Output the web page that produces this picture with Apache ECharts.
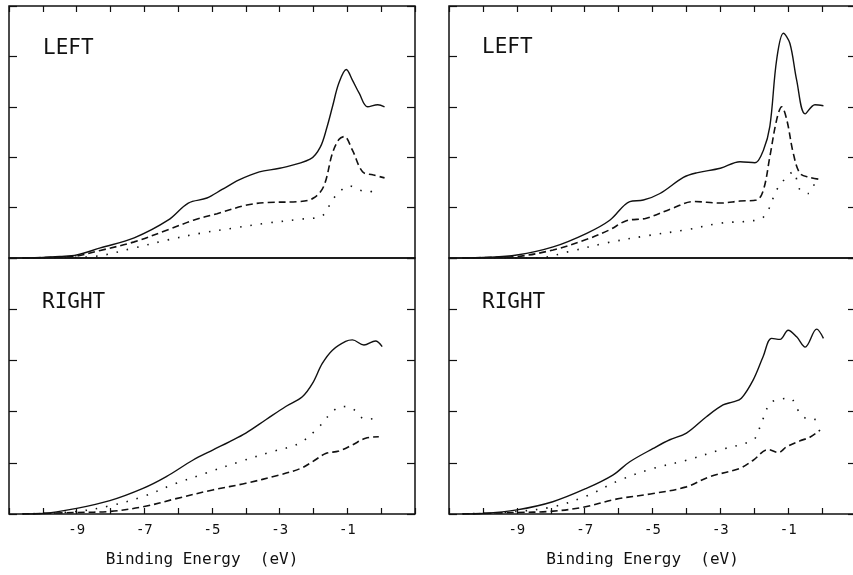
<!DOCTYPE html>
<html>
<head>
<meta charset="utf-8">
<script src="https://cdn.jsdelivr.net/npm/echarts@6/dist/echarts.min.js"></script>
<style>
  html, body { margin: 0; padding: 0; background: #fff; }
  #chart { width: 853px; height: 575px; }
</style>
</head>
<body>
<div id="chart"></div>
<script>
// binding energy (eV), intensity in tick units

const xTickLabels = [-9, -7, -5, -3, -1];
const panelLabels = ["LEFT", "LEFT", "RIGHT", "RIGHT"];

// top left panel
const tlSolid = [
  [-10.6, 0], [-10, 0.01], [-9.5, 0.03], [-9, 0.06], [-8.3, 0.2], [-7.3, 0.4],
  [-6.3, 0.75], [-5.7, 1.09], [-5.15, 1.19], [-4.7, 1.36], [-4.2, 1.55],
  [-3.6, 1.71], [-3.0, 1.78], [-2.1, 1.96], [-1.8, 2.2], [-1.6, 2.6],
  [-1.44, 3.0], [-1.25, 3.47], [-1.03, 3.74], [-0.85, 3.53], [-0.65, 3.27],
  [-0.4, 3.0], [-0.1, 3.04], [0.1, 3.0],
];
const tlDashed = [
  [-10.6, 0], [-10, 0.01], [-9.5, 0.02], [-9, 0.04], [-8.3, 0.15], [-7.3, 0.32],
  [-6.3, 0.56], [-5.55, 0.75], [-4.85, 0.88], [-3.97, 1.05], [-3.4, 1.1],
  [-2.4, 1.12], [-2.0, 1.19], [-1.7, 1.42], [-1.44, 2.08], [-1.25, 2.35],
  [-1.09, 2.41], [-0.85, 2.14], [-0.55, 1.71], [-0.25, 1.65], [0.1, 1.59],
];
const tlDotted = [
  [-10.6, 0], [-9.5, 0.01], [-8.5, 0.03], [-7.3, 0.2], [-6.3, 0.36],
  [-5.35, 0.49], [-4.4, 0.59], [-3.4, 0.69], [-2.4, 0.77], [-1.76, 0.83],
  [-1.44, 1.15], [-1.24, 1.31], [-0.94, 1.43], [-0.65, 1.35], [-0.35, 1.31],
  [-0.1, 1.41],
];

// top right panel
const trSolid = [
  [-10.6, 0], [-10, 0.01], [-9, 0.06], [-7.93, 0.22], [-6.94, 0.49],
  [-6.26, 0.75], [-5.67, 1.12], [-5.27, 1.15], [-4.78, 1.28], [-4.09, 1.6],
  [-3.7, 1.69], [-3.0, 1.78], [-2.42, 1.91], [-1.98, 1.89], [-1.73, 2.14],
  [-1.54, 2.61], [-1.34, 3.93], [-1.14, 4.46], [-0.95, 4.26], [-0.75, 3.53],
  [-0.5, 2.86], [-0.21, 3.04], [0.04, 3.02],
];
const trDashed = [
  [-10.6, 0], [-10, 0.01], [-9, 0.03], [-7.93, 0.16], [-6.94, 0.37],
  [-6.26, 0.56], [-5.77, 0.74], [-5.18, 0.79], [-4.4, 0.99], [-3.8, 1.12],
  [-3.0, 1.09], [-2.42, 1.13], [-1.93, 1.15], [-1.73, 1.35], [-1.54, 2.01],
  [-1.34, 2.74], [-1.19, 3.0], [-1.04, 2.74], [-0.85, 2.08], [-0.65, 1.68],
  [-0.36, 1.6], [-0.06, 1.56],
];
const trDotted = [
  [-10.6, 0], [-8.4, 0.0], [-7.44, 0.13], [-6.35, 0.3], [-5.18, 0.44],
  [-4.0, 0.56], [-3.0, 0.69], [-1.83, 0.77], [-1.59, 0.95], [-1.34, 1.35],
  [-1.04, 1.61], [-0.85, 1.71], [-0.65, 1.35], [-0.4, 1.28], [-0.21, 1.48],
  [-0.06, 1.6],
];

// bottom left panel
const blSolid = [
  [-10.6, 0], [-10, 0.01], [-9, 0.11], [-8.02, 0.26], [-7.04, 0.5],
  [-6.35, 0.73], [-5.57, 1.05], [-4.98, 1.25], [-4.49, 1.41], [-4.0, 1.58],
  [-3.41, 1.84], [-2.82, 2.1], [-2.33, 2.29], [-2.03, 2.55], [-1.74, 2.94],
  [-1.44, 3.2], [-1.05, 3.37], [-0.85, 3.4], [-0.51, 3.3], [-0.17, 3.38],
  [0.03, 3.27],
];
const blDashed = [
  [-10.6, 0], [-9, 0.03], [-8.02, 0.05], [-7.04, 0.14], [-6.06, 0.3],
  [-4.98, 0.47], [-4.0, 0.6], [-3.02, 0.76], [-2.38, 0.89], [-2.03, 1.02],
  [-1.64, 1.18], [-1.25, 1.23], [-0.85, 1.35], [-0.46, 1.48], [-0.07, 1.51],
];
const blDotted = [
  [-10.6, 0], [-9, 0.05], [-8.02, 0.16], [-7.04, 0.34], [-6.06, 0.6],
  [-5.17, 0.8], [-4.19, 1.02], [-3.21, 1.22], [-2.42, 1.38], [-1.84, 1.7],
  [-1.44, 2.0], [-1.15, 2.1], [-0.85, 2.06], [-0.46, 1.85], [-0.12, 1.87],
];

// bottom right panel
const brSolid = [
  [-10.6, 0], [-10, 0.01], [-9, 0.08], [-7.94, 0.24], [-6.95, 0.5],
  [-6.17, 0.76], [-5.67, 1.02], [-4.98, 1.28], [-4.49, 1.45], [-4.0, 1.58],
  [-3.41, 1.9], [-2.92, 2.13], [-2.62, 2.19], [-2.38, 2.26], [-2.03, 2.62],
  [-1.74, 3.07], [-1.49, 3.43], [-1.24, 3.41], [-1.0, 3.59], [-0.75, 3.46],
  [-0.5, 3.26], [-0.16, 3.61], [0.04, 3.43],
];
const brDashed = [
  [-10.6, 0], [-9, 0.03], [-8.04, 0.05], [-7.05, 0.13], [-6.07, 0.29],
  [-4.98, 0.4], [-4.0, 0.53], [-3.31, 0.73], [-2.43, 0.89], [-2.03, 1.05],
  [-1.59, 1.26], [-1.29, 1.2], [-1.05, 1.31], [-0.65, 1.43], [-0.36, 1.5],
  [-0.06, 1.64],
];
const brDotted = [
  [-10.6, 0], [-9, 0.05], [-7.94, 0.14], [-6.95, 0.35], [-5.97, 0.66],
  [-4.98, 0.89], [-4.0, 1.05], [-3.02, 1.25], [-2.03, 1.45], [-1.83, 1.7],
  [-1.54, 2.16], [-1.24, 2.24], [-0.95, 2.26], [-0.65, 1.97], [-0.36, 1.84],
  [0.04, 1.87],
];

const panels = [
  [tlSolid, tlDashed, tlDotted],
  [trSolid, trDashed, trDotted],
  [blSolid, blDashed, blDotted],
  [brSolid, brDashed, brDotted],
];

const mono = "DejaVu Sans Mono";
const ink = "#111";

// right column runs a few px past the page edge, as in the scan
const grids = [
  { left: 9, top: 6, width: 406, height: 252 },
  { left: 449, top: 6, width: 407, height: 252 },
  { left: 9, top: 258, width: 406, height: 256 },
  { left: 449, top: 258, width: 407, height: 256 },
].map((g) => ({
  ...g,
  show: true,
  outerBoundsMode: "none",
  containLabel: false,
  borderColor: ink,
  borderWidth: 1.5,
  backgroundColor: "transparent",
}));

const xAxes = grids.map((g, i) => {
  const bottom = i >= 2;
  return {
    type: "value",
    gridIndex: i,
    position: bottom ? "bottom" : "top",
    min: -11,
    max: 1,
    interval: 1,
    axisLine: { show: false, onZero: false },
    axisTick: {
      show: true,
      inside: true,
      length: 6,
      lineStyle: { color: ink, width: 1.2 },
    },
    splitLine: { show: false },
    axisLabel: {
      show: bottom,
      margin: 9,
      color: ink,
      fontFamily: mono,
      fontSize: 14,
      formatter: (v) => (xTickLabels.includes(v) ? String(v) : ""),
    },
    name: bottom ? "Binding Energy  (eV)" : "",
    nameLocation: "middle",
    nameGap: 38,
    nameTextStyle: {
      color: ink,
      fontFamily: mono,
      fontSize: 16,
      padding: [0, 20, 0, 0],
    },
  };
});

const yAxes = [];
grids.forEach((g, i) => {
  ["left", "right"].forEach((pos) => {
    yAxes.push({
      type: "value",
      gridIndex: i,
      position: pos,
      min: 0,
      max: 5,
      interval: 1,
      axisLine: { show: false, onZero: false },
      axisTick: {
        show: true,
        inside: true,
        length: 8,
        lineStyle: { color: ink, width: 1.2 },
      },
      splitLine: { show: false },
      axisLabel: { show: false },
    });
  });
});

const styles = [
  { type: "solid", width: 1.4 },
  { type: [7, 4], width: 1.6 },
  { type: [1.5, 9], width: 1.6 },
];

const series = [];
panels.forEach((lines, i) => {
  lines.forEach((data, k) => {
    series.push({
      type: "line",
      xAxisIndex: i,
      yAxisIndex: i * 2,
      data: data,
      smooth: 0.35,
      symbol: "none",
      silent: true,
      lineStyle: { color: ink, ...styles[k] },
    });
  });
});

const labelPos = [
  [43, 49],
  [482, 48],
  [42, 303],
  [482, 303],
];

const graphic = panelLabels.map((t, i) => ({
  type: "text",
  x: labelPos[i][0],
  y: labelPos[i][1],
  style: {
    text: t,
    fill: ink,
    font: `21px "${mono}"`,
    verticalAlign: "middle",
  },
}));

const myChart = echarts.init(document.getElementById("chart"));
myChart.setOption({
  animation: false,
  backgroundColor: "#fff",
  grid: grids,
  xAxis: xAxes,
  yAxis: yAxes,
  series: series,
  graphic: graphic,
});
</script>
</body>
</html>
